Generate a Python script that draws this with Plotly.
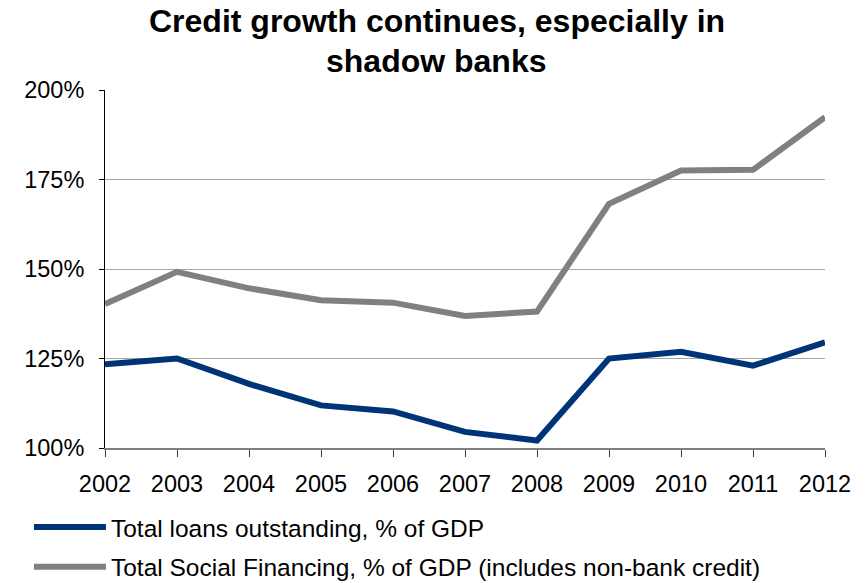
import plotly.graph_objects as go

years = [2002, 2003, 2004, 2005, 2006, 2007, 2008, 2009, 2010, 2011, 2012]
loans = [123.4, 125.0, 117.9, 111.9, 110.2, 104.5, 102.1, 125.0, 126.9, 123.0, 129.5]
tsf = [140.2, 149.2, 144.6, 141.3, 140.6, 136.9, 138.1, 168.2, 177.5, 177.7, 192.4]
y_ticks = [100, 125, 150, 175, 200]
y_labels = ["100%", "125%", "150%", "175%", "200%"]
title_lines = ["Credit growth continues, especially in", "shadow banks"]
series_names = ["Total loans outstanding, % of GDP",
                "Total Social Financing, % of GDP (includes non-bank credit)"]

FONT = "Liberation Sans, Arial, sans-serif"

fig = go.Figure()
fig.add_trace(go.Scatter(x=years, y=loans, mode="lines", name=series_names[0],
                         line=dict(color="#003478", width=6), legend="legend"))
fig.add_trace(go.Scatter(x=years, y=tsf, mode="lines", name=series_names[1],
                         line=dict(color="#808080", width=6), legend="legend2"))

# title as two lines placed individually
for txt, yy in zip(title_lines, [1.192, 1.081]):
    fig.add_annotation(text="<b>%s</b>" % txt, xref="paper", yref="paper",
                       x=0.461, y=yy, xanchor="center", yanchor="middle",
                       showarrow=False, font=dict(family=FONT, size=32, color="black"))

leg_common = dict(x=-0.1056, xanchor="left", yanchor="middle",
                  font=dict(family=FONT, size=24.5, color="black"), itemwidth=72,
                  bgcolor="rgba(0,0,0,0)", borderwidth=0)

fig.update_layout(
    width=867, height=583,
    margin=dict(l=105, r=42, t=90, b=135, autoexpand=False),
    paper_bgcolor="white", plot_bgcolor="white",
    font=dict(family=FONT, size=18, color="black"),
    showlegend=True,
    legend=dict(y=-0.221, **leg_common),
    legend2=dict(y=-0.332, **leg_common),
    xaxis=dict(range=[2002, 2012], tickmode="array", tickvals=years,
               ticktext=[str(y) for y in years], showgrid=False,
               showline=True, linecolor="#808080", linewidth=2,
               ticks="outside", ticklen=7, tickcolor="#404040", tickwidth=1,
               tickfont=dict(size=23.5), zeroline=False, ticklabelstandoff=7,
               automargin=False),
    yaxis=dict(range=[100, 200], tickmode="array", tickvals=y_ticks, ticktext=y_labels,
               showgrid=True, gridcolor="#a6a6a6", gridwidth=1,
               showline=True, linecolor="black", linewidth=1,
               ticks="outside", ticklen=5, tickcolor="black",
               tickfont=dict(size=23.5), zeroline=False, ticklabelstandoff=10,
               automargin=False),
)

fig.write_html("out.html")
